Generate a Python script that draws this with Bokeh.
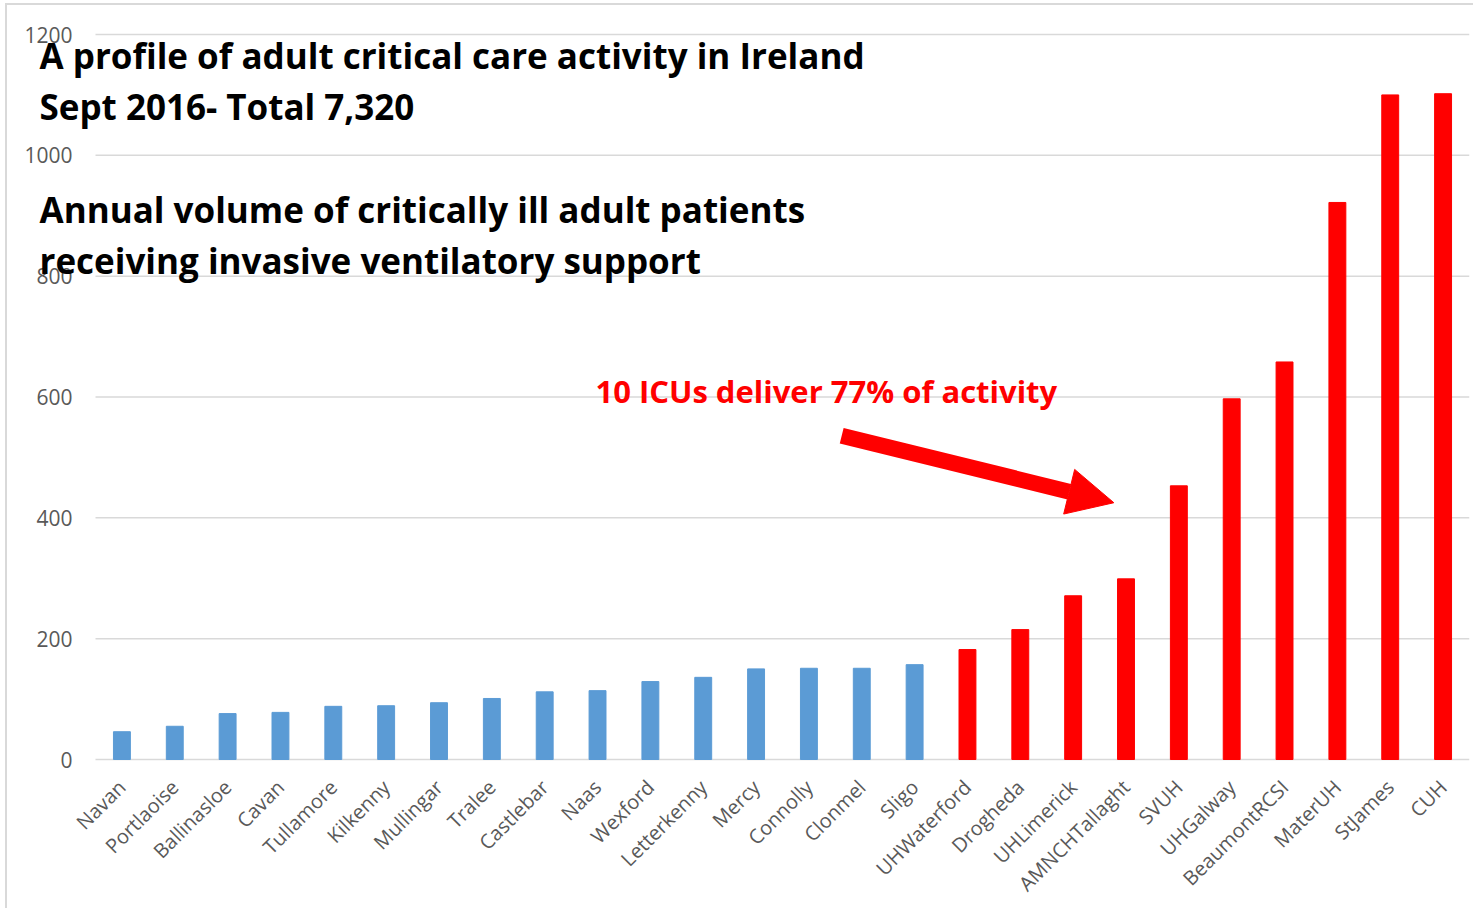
from bokeh.plotting import figure
from bokeh.models import Range1d, Label, Arrow, NormalHead, ColumnDataSource, FixedTicker
from bokeh.embed import file_html
from bokeh.resources import INLINE
import math

hospitals = ["Navan", "Portlaoise", "Ballinasloe", "Cavan", "Tullamore", "Kilkenny",
             "Mullingar", "Tralee", "Castlebar", "Naas", "Wexford", "Letterkenny",
             "Mercy", "Connolly", "Clonmel", "Sligo", "UHWaterford", "Drogheda",
             "UHLimerick", "AMNCHTallaght", "SVUH", "UHGalway", "BeaumontRCSI",
             "MaterUH", "StJames", "CUH"]
patients = [46, 55, 76, 78, 88, 89, 94, 101, 112, 114, 129, 136,
            150, 151, 151, 157, 182, 215, 271, 299, 453, 597, 658,
            922, 1100, 1102]
top_group = [False] * 16 + [True] * 10
y_ticks = [0, 200, 400, 600, 800, 1000, 1200]

title_lines = ["A profile of adult critical care activity in Ireland",
               "Sept 2016- Total 7,320"]
subtitle_lines = ["Annual volume of critically ill adult patients",
                  "receiving invasive ventilatory support"]
callout = "10 ICUs deliver 77% of activity"

BLUE = "#5B9BD5"
RED = "#FF0000"
GRID = "#D9D9D9"
LABEL = "#595959"

n = len(hospitals)
xs = list(range(n))
colors = [RED if t else BLUE for t in top_group]
src = ColumnDataSource(dict(x=xs, top=patients, color=colors))

W, H = 1468, 905
LEFT_AREA = 88                      # px reserved for y tick labels (inside frame)
BOTTOM_PAD = 10                     # px of frame below the 0 line
PLOT_H = 725                        # px between 0 and 1200
slot_px = (W - 6 - LEFT_AREA) / n
x_start = -0.5 - LEFT_AREA / slot_px
units_per_px = 1200 / PLOT_H
y_top = 1200 + 29 * units_per_px
y_bottom = -BOTTOM_PAD * units_per_px

p = figure(x_range=Range1d(x_start, n - 0.5), y_range=Range1d(y_bottom, y_top),
           width=W, height=H, output_backend="svg", toolbar_location=None,
           y_axis_location=None,
           min_border_left=0, min_border_right=6, min_border_top=0, min_border_bottom=141)
p.styles = {"border-left": "2px solid #D9D9D9", "border-top": "2px solid #D9D9D9",
            "margin-left": "5px", "margin-top": "3px"}

p.outline_line_color = None
p.xgrid.grid_line_color = None
p.ygrid.grid_line_color = None

# horizontal gridlines over the category area
p.segment(x0=-0.5, x1=n - 0.5, y0=y_ticks, y1=y_ticks, line_color=GRID, line_width=1.5)
# y tick labels
p.text(x=-0.5, y=y_ticks, text=[str(t) for t in y_ticks], x_offset=-23,
       text_align="right", text_baseline="middle", text_font_size="21px",
       text_color=LABEL, text_font={"value": "Open Sans"})

p.vbar(x="x", top="top", width=0.32, color="color", source=src)

p.xaxis.ticker = FixedTicker(ticks=xs)
p.xaxis.major_label_overrides = {i: h for i, h in zip(xs, hospitals)}
p.xaxis.axis_line_color = None
p.xaxis.major_tick_line_color = None
p.xaxis.minor_tick_line_color = None
p.xaxis.major_label_orientation = math.pi / 4
p.xaxis.major_label_standoff = 18 - BOTTOM_PAD
p.xaxis.major_label_text_font = "Open Sans"
p.xaxis.major_label_text_font_size = "20px"
p.xaxis.major_label_text_color = LABEL

for txt, yv in zip(title_lines + subtitle_lines, [48, 99, 202, 253]):
    p.add_layout(Label(x=30, y=yv, x_units="canvas", y_units="canvas", text=txt,
                       text_font="Open Sans", text_font_style="bold",
                       text_font_size="35px", text_color="black", text_baseline="alphabetic"))

p.add_layout(Label(x=8.96, y=610, text=callout, text_font="Open Sans", text_font_style="bold",
                   text_font_size="31px", text_color=RED, text_baseline="middle"))

p.add_layout(Arrow(x_start=13.62, y_start=536, x_end=18.77, y_end=425,
                   line_color=RED, line_width=16,
                   end=NormalHead(size=46, fill_color=RED, line_color=RED)))

open("out.html", "w").write(file_html(p, INLINE))
